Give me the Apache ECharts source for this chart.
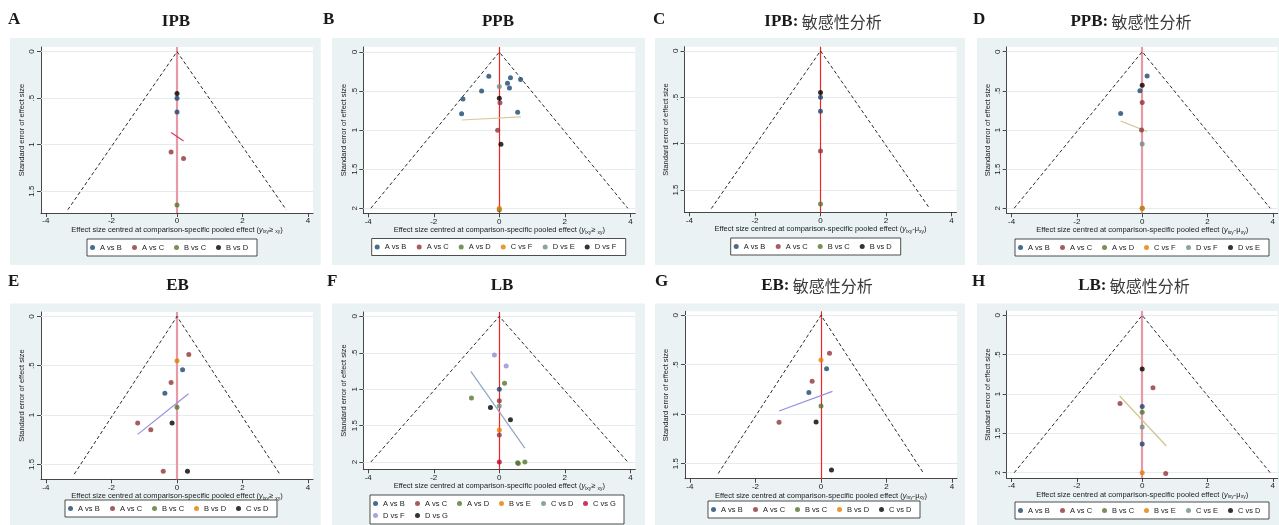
<!DOCTYPE html>
<html><head><meta charset="utf-8">
<script src="https://cdn.jsdelivr.net/npm/echarts@6/dist/echarts.min.js"></script>
<style>html,body{margin:0;padding:0;background:#fff}#c{width:1279px;height:525px}</style>
</head><body><div id="c"></div>
<script>
// ---------- data ----------
const xTicks = [-4, -2, 0, 2, 4];
const yTicksShort = [0, 0.5, 1, 1.5];
const yTicksLong = [0, 0.5, 1, 1.5, 2];
const yTickLabels = {'0':'0','0.5':'.5','1':'1','1.5':'1.5','2':'2'};

// A: IPB
const ipbNames = ['A vs B','A vs C','B vs C','B vs D'];
const ipbPoints = [[[0,0.50],[0,0.65]], [[-0.18,1.08],[0.20,1.15]], [[0,1.65]], [[0,0.45]]];
const ipbLine = [[-0.18,0.87],[0.20,0.96]];
const ipbMaxSE = 1.7;

// B: PPB
const ppbNames = ['A vs B','A vs C','A vs D','C vs F','D vs E','D vs F'];
const ppbPoints = [
  [[-0.32,0.31],[0.34,0.33],[0.25,0.40],[0.65,0.35],[0.31,0.46],[-0.54,0.50],[-1.11,0.60],[-1.15,0.79],[0.56,0.77]],
  [[0.02,0.65],[-0.05,1.00]],
  [[0,2.02]],
  [[0,2.00]],
  [[0,0.44]],
  [[0,0.59],[0.05,1.18]]
];
const ppbLine = [[-1.15,0.87],[0.66,0.83]];
const ppbMaxSE = 2.0;

// C: IPB sensitivity
const ipbSensNames = ['A vs B','A vs C','B vs C','B vs D'];
const ipbSensPoints = [[[0,0.50],[0,0.65]], [[0,1.08]], [[0,1.65]], [[0,0.45]]];
const ipbSensLine = [];
const ipbSensMaxSE = 1.7;

// D: PPB sensitivity
const ppbSensNames = ['A vs B','A vs C','A vs D','C vs F','D vs F','D vs E'];
const ppbSensPoints = [[[0.15,0.31],[-0.07,0.50],[-0.66,0.79]], [[0,0.65],[-0.02,1.00]], [[0,2.00]], [[0,2.00]], [[0,1.18]], [[0,0.43]]];
const ppbSensLine = [[-0.66,0.885],[0.15,1.02]];
const ppbSensMaxSE = 2.0;

// E: EB
const ebNames = ['A vs B','A vs C','B vs C','B vs D','C vs D'];
const ebPoints = [[[0.17,0.54],[-0.37,0.78]], [[0.36,0.385],[-0.18,0.67],[-1.20,1.08],[-0.80,1.15],[-0.42,1.57]], [[0,0.92]], [[0,0.45]], [[-0.15,1.08],[0.32,1.57]]];
const ebLine = [[-1.20,1.196],[0.35,0.784]];
const ebMaxSE = 1.6;

// F: LB
const lbNames = ['A vs B','A vs C','A vs D','B vs E','C vs D','C vs G','D vs F','D vs G'];
const lbPoints = [[[0,1.00]], [[0,1.16],[0,1.63]], [[0.16,0.92],[-0.85,1.12],[0.56,2.01],[0.58,2.02],[0.78,2.00]], [[0,1.56]], [[0,1.23]], [[0,2.00]], [[-0.15,0.53],[0.21,0.68]], [[-0.27,1.25],[0.34,1.42]]];
const lbLine = [[-0.87,0.755],[0.78,1.81]];
const lbMaxSE = 2.0;

// G: EB sensitivity
const ebSensNames = ['A vs B','A vs C','B vs C','B vs D','C vs D'];
const ebSensPoints = [[[0.17,0.54],[-0.37,0.78]], [[0.26,0.384],[-0.27,0.667],[-1.28,1.082]], [[0,0.917]], [[0,0.452]], [[-0.15,1.079],[0.32,1.564]]];
const ebSensLine = [[-1.28,0.968],[0.35,0.77]];
const ebSensMaxSE = 1.6;

// H: LB sensitivity
const lbSensNames = ['A vs B','A vs C','B vs C','B vs E','C vs E','C vs D'];
const lbSensPoints = [[[0,1.16],[0,1.636]], [[0.33,0.92],[-0.68,1.12],[0.72,2.01]], [[0,1.23]], [[0,2.00]], [[0,1.42]], [[0,0.682]]];
const lbSensLine = [[-0.69,1.025],[0.74,1.66]];
const lbSensMaxSE = 2.0;

const panelLetters = ['A','B','C','D','E','F','G','H'];
const panelTitles = [['IPB',''],['PPB',''],['IPB:','敏感性分析'],['PPB:','敏感性分析'],['EB',''],['LB',''],['EB:','敏感性分析'],['LB:','敏感性分析']];

// ---------- styles / layout ----------
const palette = ['#1a476f','#90353b','#55752f','#e37e00','#6e8e84','#c10534','#938dd2'];
const pinkRed = {color:'#e79aa5', width:2.2};
const brightRed = {color:'#f52424', width:1.2};

const panels = [
  {names:ipbNames, pts:ipbPoints, line:ipbLine, M:ipbMaxSE, yT:yTicksShort, garbled:true,
   grid:{left:41,top:47,width:272,height:166}, yMin:-0.05, yMax:1.735, lg:{left:87,top:239}, tx:176, lx:8, row:0, red:pinkRed, lc:'#d1386a'},
  {names:ppbNames, pts:ppbPoints, line:ppbLine, M:ppbMaxSE, yT:yTicksLong, garbled:true,
   grid:{left:363.3,top:47,width:272,height:166.3}, yMin:-0.065, yMax:2.065, lg:{left:371.7,top:238.5}, tx:498, lx:323, row:0, red:brightRed, lc:'#d6cc9a'},
  {names:ipbSensNames, pts:ipbSensPoints, line:ipbSensLine, M:ipbSensMaxSE, yT:yTicksShort, garbled:false,
   grid:{left:684.5,top:46.7,width:272,height:165.6}, yMin:-0.045, yMax:1.74, lg:{left:730.7,top:238}, tx:823, lx:653, row:0, red:brightRed, lc:'#d6cc9a'},
  {names:ppbSensNames, pts:ppbSensPoints, line:ppbSensLine, M:ppbSensMaxSE, yT:yTicksLong, garbled:false,
   grid:{left:1006.7,top:47,width:271,height:166.3}, yMin:-0.06, yMax:2.065, lg:{left:1015,top:239}, tx:1131, lx:973, row:0, red:pinkRed, lc:'#d0c58c'},
  {names:ebNames, pts:ebPoints, line:ebLine, M:ebMaxSE, yT:yTicksShort, garbled:true,
   grid:{left:41,top:312,width:272,height:167.3}, yMin:-0.045, yMax:1.652, lg:{left:65,top:500}, tx:177.5, lx:8, row:1, red:pinkRed, lc:'#9590e0'},
  {names:lbNames, pts:lbPoints, line:lbLine, M:lbMaxSE, yT:yTicksLong, garbled:true,
   grid:{left:363.3,top:312,width:272,height:157.3}, yMin:-0.06, yMax:2.10, lg:{left:370,top:495}, tx:502, lx:327, row:1, red:brightRed, lc:'#8fa5c2'},
  {names:ebSensNames, pts:ebSensPoints, line:ebSensLine, M:ebSensMaxSE, yT:yTicksShort, garbled:false,
   grid:{left:685,top:311.3,width:272,height:167.4}, yMin:-0.04, yMax:1.652, lg:{left:708,top:501}, tx:817, lx:655, row:1, red:brightRed, lc:'#9590e0'},
  {names:lbSensNames, pts:lbSensPoints, line:lbSensLine, M:lbSensMaxSE, yT:yTicksLong, garbled:false,
   grid:{left:1006.7,top:311,width:271,height:167}, yMin:-0.055, yMax:2.067, lg:{left:1015,top:502}, tx:1134, lx:972, row:1, red:pinkRed, lc:'#cfc48c'}
];

const bgCols = [[10,310.7],[332,313],[655,310],[977,302]];
const bgRows = [[38,227],[303.5,221.5]];
const FONT = 'Liberation Sans';
const TXT = '#1a1a1a';

const option = {
  animation:false,
  grid:[], xAxis:[], yAxis:[], series:[], legend:[], graphic:[]
};

// background boxes
bgRows.forEach(r => bgCols.forEach(c => {
  option.graphic.push({type:'rect', z:-10, silent:true, shape:{x:c[0], y:r[0], width:c[1], height:r[1]}, style:{fill:'#eaf2f3'}});
}));

const xNameRich = {
  i:{fontFamily:FONT, fontSize:7.5, fontStyle:'italic', color:TXT},
  s:{fontFamily:FONT, fontSize:5, color:TXT, padding:[4,0,0,0]},
  t:{fontFamily:FONT, fontSize:7.5, color:TXT}
};

panels.forEach((p, i) => {
  const key = panelLetters[i];
  const rowTitleY = p.row === 0 ? 22 : 286;
  const rowLetterY = p.row === 0 ? 20 : 282;
  option.grid.push(Object.assign({show:true, backgroundColor:'#ffffff', borderWidth:0}, p.grid));
  const xName = p.garbled
    ? '{t|Effect size centred at comparison-specific pooled effect (}{i|y}{s|ixy}{t|≥ }{s|xy}{t|)}'
    : '{t|Effect size centred at comparison-specific pooled effect (}{i|y}{s|ixy}{t|-μ}{s|xy}{t|)}';
  option.xAxis.push({
    gridIndex:i, type:'value', min:-4.15, max:4.15,
    axisLine:{show:true, onZero:false, lineStyle:{color:'#333', width:0.9}},
    axisTick:{show:true, customValues:xTicks, length:4, lineStyle:{color:'#333', width:0.9}},
    axisLabel:{show:true, customValues:xTicks, fontSize:8, fontFamily:FONT, color:TXT, margin:4},
    splitLine:{show:false},
    name:xName, nameLocation:'middle', nameGap:12,
    nameTextStyle:{fontFamily:FONT, fontSize:7.5, color:TXT, rich:xNameRich}
  });
  option.yAxis.push({
    gridIndex:i, type:'value', inverse:true, min:p.yMin, max:p.yMax,
    axisLine:{show:true, onZero:false, lineStyle:{color:'#333', width:0.9}},
    axisTick:{show:true, customValues:p.yT, length:4, lineStyle:{color:'#333', width:0.9}},
    axisLabel:{show:true, customValues:p.yT, rotate:90, fontSize:8, fontFamily:FONT, color:TXT, margin:5,
      formatter:v => yTickLabels[String(v)] !== undefined ? yTickLabels[String(v)] : String(v)},
    splitLine:{show:false},
    name:'Standard error of effect size', nameLocation:'middle', nameRotate:90, nameGap:15,
    nameTextStyle:{fontFamily:FONT, fontSize:7.5, color:TXT}
  });
  // gridlines + pooled-effect line + funnel
  option.series.push({
    type:'line', xAxisIndex:i, yAxisIndex:i, silent:true, showSymbol:false, z:1,
    data:[[-1.96*p.M, p.M],[0,0],[1.96*p.M, p.M]],
    lineStyle:{color:'#111', width:0.9, type:[3.5,2.5]},
    markLine:{silent:true, z:1, symbol:['none','none'], label:{show:false}, animation:false,
      data: p.yT.map(v => ({yAxis:v, lineStyle:{color:'#e3ecee', width:1, type:'solid'}}))
        .concat([{xAxis:0, lineStyle:{color:p.red.color, width:p.red.width, type:'solid'}}])
    }
  });
  if (p.line.length) {
    option.series.push({
      type:'line', xAxisIndex:i, yAxisIndex:i, silent:true, showSymbol:false, z:2,
      data:p.line, lineStyle:{color:p.lc, width:1.2}
    });
  }
  const n = p.names.length;
  p.names.forEach((nm, j) => {
    const col = j === n-1 ? '#000000' : palette[j];
    option.series.push({
      type:'scatter', name:key + '|' + nm, xAxisIndex:i, yAxisIndex:i, z:10,
      data:p.pts[j], symbol:'circle', symbolSize:5, itemStyle:{color:col}
    });
  });
  option.legend.push({
    data:p.names.map(nm => key + '|' + nm), formatter:nm => nm.split('|')[1],
    left:p.lg.left, top:p.lg.top, orient:'horizontal', width:252,
    icon:'circle', itemWidth:5, itemHeight:5, itemGap:4, selectedMode:false,
    padding:[4.5,3], backgroundColor:'#ffffff', borderColor:'#222', borderWidth:0.8,
    textStyle:{fontFamily:FONT, fontSize:7.5, color:TXT, width:28, lineHeight:6}
  });
  // letter
  option.graphic.push({type:'text', silent:true, style:{x:p.lx, y:rowLetterY, text:key,
    font:"bold 17px 'Liberation Serif'", fill:TXT, align:'left', verticalAlign:'middle'}});
  // title
  const t = panelTitles[i];
  const txt = t[1] ? '{b|' + t[0] + '} {c|' + t[1] + '}' : '{b|' + t[0] + '}';
  option.graphic.push({type:'text', silent:true, style:{x:p.tx, y:rowTitleY, text:txt, align:'center', verticalAlign:'middle',
    rich:{
      b:{fontFamily:'Liberation Serif', fontWeight:'bold', fontSize:17, fill:TXT},
      c:{fontFamily:'Noto Sans CJK SC', fontWeight:'normal', fontSize:16, fill:'#3a3a3a'}
    }}});
});

const chart = echarts.init(document.getElementById('c'), null, {renderer:'canvas'});
chart.setOption(option);
</script>
</body></html>
